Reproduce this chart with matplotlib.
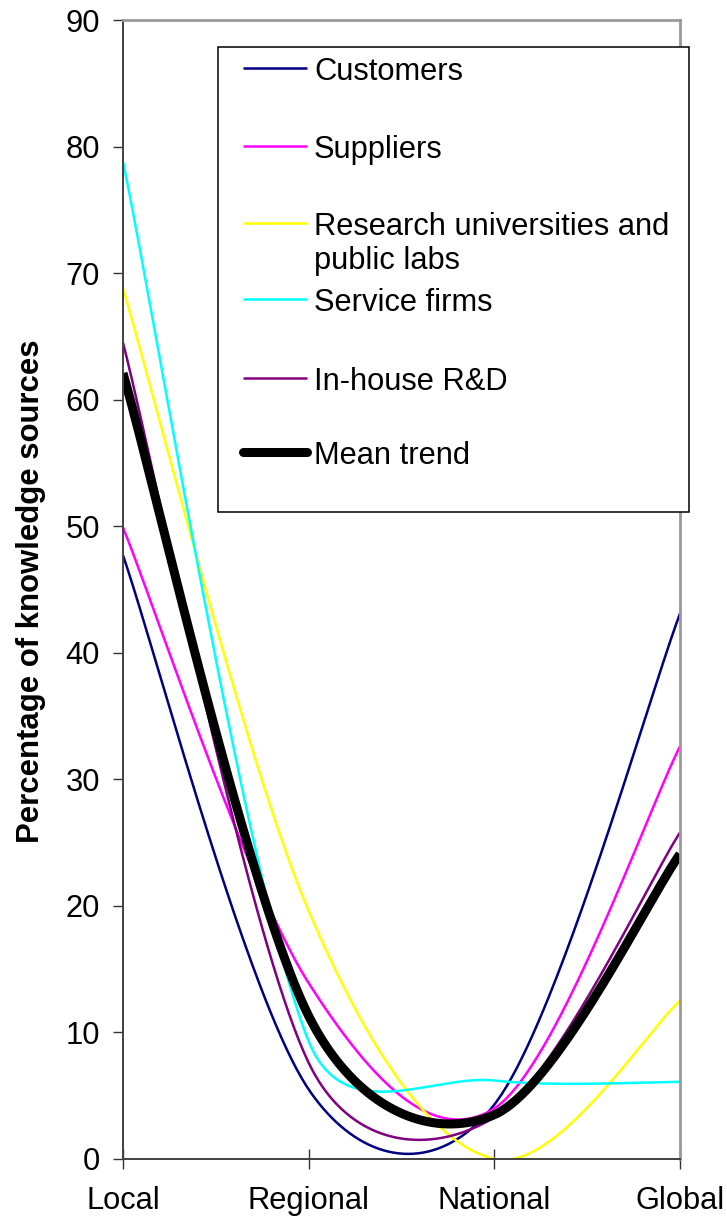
import numpy as np
import matplotlib.pyplot as plt
from matplotlib.lines import Line2D
from matplotlib.patches import Rectangle

categories = ["Local", "Regional", "National", "Global"]
customers = [47.7, 5.5, 4.3, 43.1]
suppliers = [49.9, 13.9, 4.0, 32.6]
research = [68.8, 19.6, 0.0, 12.5]
service_firms = [78.8, 9.3, 6.2, 6.1]
in_house = [64.5, 7.6, 3.3, 25.8]
mean_trend = [62.1, 11.3, 3.5, 24.1]

names = ["Customers", "Suppliers", "Research universities and\npublic labs",
         "Service firms", "In-house R&D", "Mean trend"]
values = [customers, suppliers, research, service_firms, in_house, mean_trend]
colors = ["#000080", "#ff00ff", "#ffff00", "#00ffff", "#800080", "#000000"]
widths = [1.8, 1.8, 1.8, 1.8, 1.8, 6.5]

plt.rcParams['font.family'] = ['Liberation Sans', 'DejaVu Sans']

W, H = 727, 1219
fig = plt.figure(figsize=(W / 100, H / 100), dpi=100)
ax = fig.add_axes([123 / W, 1 - 1159 / H, (680 - 123) / W, (1159 - 20) / H])
ax.set_xlim(0, 3)
ax.set_ylim(0, 90)


def smooth(ax, ys, n=80):
    # Excel-like smoothed line: bezier segments built in screen space
    pts = ax.transData.transform(np.column_stack([np.arange(len(ys)), ys]))
    ext = np.vstack([pts[:1], pts, pts[-1:]])
    out = [pts[:1]]
    t = np.linspace(0, 1, n)[1:, None]
    for i in range(len(pts) - 1):
        p1, p2 = pts[i], pts[i + 1]
        seg = np.linalg.norm(p2 - p1)
        t1 = (ext[i + 2] - ext[i]) / 6
        t2 = (ext[i + 3] - ext[i + 1]) / 6
        t1 = t1 * min(1, seg / 2 / max(np.linalg.norm(t1), 1e-9))
        t2 = t2 * min(1, seg / 2 / max(np.linalg.norm(t2), 1e-9))
        c1, c2 = p1 + t1, p2 - t2
        b = (1 - t) ** 3 * p1 + 3 * (1 - t) ** 2 * t * c1 + 3 * (1 - t) * t ** 2 * c2 + t ** 3 * p2
        out.append(b)
    xy = ax.transData.inverted().transform(np.vstack(out))
    return xy[:, 0], xy[:, 1]


for vals, c, lw in zip(values, colors, widths):
    sx, sy = smooth(ax, vals)
    ax.plot(sx, sy, color=c, lw=lw, solid_capstyle='butt')

ax.set_xticks(range(len(categories)), categories)
ax.set_yticks(range(0, 91, 10))
ax.tick_params(axis='x', direction='inout', length=14.4, width=1, pad=12,
               labelsize=22.2, color='#333333')
ax.tick_params(axis='y', direction='out', length=7.2, width=1, pad=9.5,
               labelsize=22.2, color='#333333')
for s in ['left', 'bottom']:
    ax.spines[s].set_color('#404040')
    ax.spines[s].set_linewidth(1.4)
for s in ['top', 'right']:
    ax.spines[s].set_color('#999999')
    ax.spines[s].set_linewidth(2)

fig.text(31 / W, 1 - 591 / H, "Percentage of knowledge sources", rotation=90,
         ha='center', va='center', fontsize=22.4, fontweight='bold')

# legend drawn by hand to match the original layout
box = Rectangle((217.5 / W, 1 - 511.5 / H), (688.7 - 217.5) / W, (511.5 - 46.7) / H,
                transform=fig.transFigure, facecolor='white', edgecolor='black',
                lw=1.1, zorder=5)
fig.add_artist(box)
entry_y = [68.3, 146, 222.7, 299, 377.7, 452.3]
for name, c, lw, y in zip(names, colors, widths, entry_y):
    fig.add_artist(Line2D([243 / W, 307 / W], [1 - y / H, 1 - y / H], transform=fig.transFigure,
                          color=c, lw=lw, solid_capstyle='round' if lw > 3 else 'butt', zorder=6))
    fig.text(314 / W, 1 - (y - 10.9) / H, name, va='top', ha='left', fontsize=22.2, zorder=6)

fig.savefig('out.png', dpi=100)
